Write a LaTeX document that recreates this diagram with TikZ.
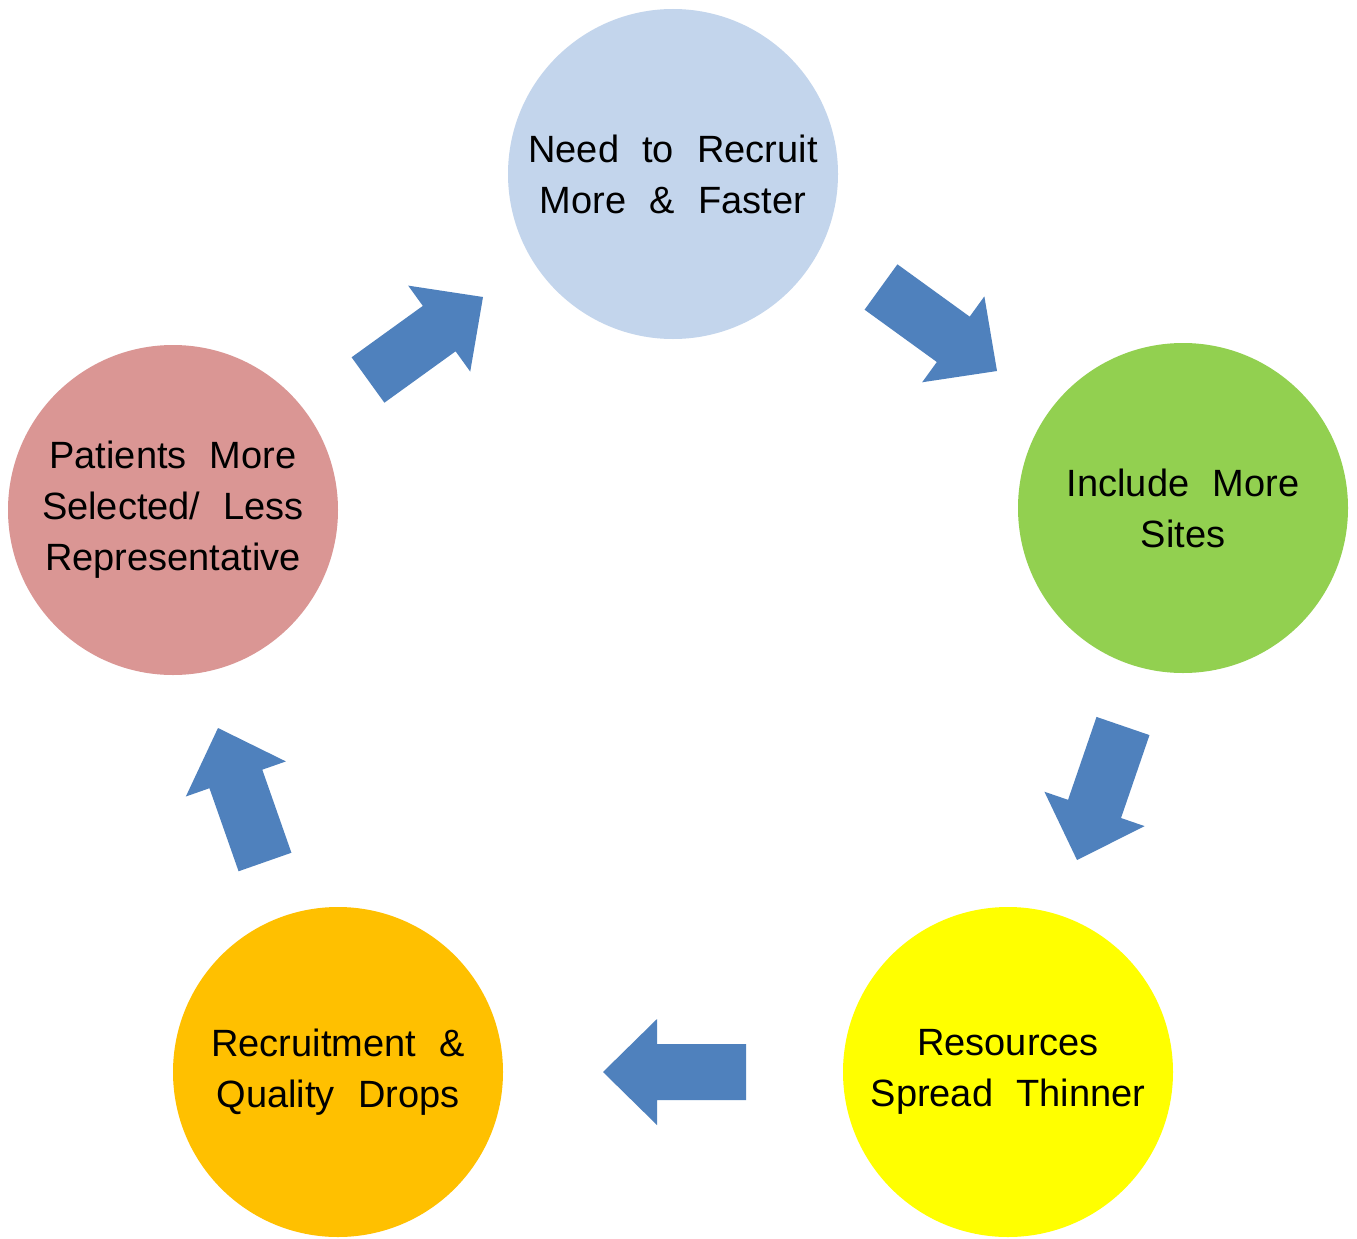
\documentclass[tikz,border=0pt]{standalone}
\usepackage{fontspec}
\setmainfont{Liberation Sans}[WordSpace=2.2]
\usetikzlibrary{calc}
\definecolor{cblue}{HTML}{C3D5EC}
\definecolor{cgreen}{HTML}{92D050}
\definecolor{cyellow}{HTML}{FFFF00}
\definecolor{corange}{HTML}{FFC000}
\definecolor{cpink}{HTML}{DA9694}
\definecolor{arrowblue}{HTML}{4F81BD}
\tikzset{
  stage/.style={circle, minimum size=330pt, inner sep=0pt, draw=none, align=center,
    font=\fontsize{38}{51}\selectfont},
  blockfill/.style={fill=arrowblue, draw=none}
}
% block arrow from tail coordinate #1 to tip coordinate #2
\newcommand\blockarrow[2]{%
  \path ($(#2)!54pt!(#1)$) coordinate (#1-base);
  \fill[blockfill] ($(#1)!28pt!90:(#2)$) -- ($(#1-base)!28pt!90:(#2)$)
    -- ($(#1-base)!53pt!90:(#2)$) -- (#2)
    -- ($(#1-base)!53pt!-90:(#2)$) -- ($(#1-base)!28pt!-90:(#2)$)
    -- ($(#1)!28pt!-90:(#2)$) -- cycle;
}
\begin{document}
\begin{tikzpicture}[x=1pt,y=-1pt]
\useasboundingbox[fill=white] (0,0) rectangle (1357,1239);

\node[stage, fill=cblue]   (need)    at (673,174)  {Need to Recruit\\More \& Faster};
\node[stage, fill=cgreen]  (sites)   at (1183,508) {Include More\\Sites};
\node[stage, fill=cyellow] (thin)    at (1008,1072) {Resources\\Spread Thinner};
\node[stage, fill=corange] (quality) at (338,1072) {Recruitment \&\\Quality Drops};
\node[stage, fill=cpink]   (patients) at (173,510) {Patients More\\Selected/ Less\\Representative};

% arrow ends
\coordinate (a1) at (368,380);  \coordinate (a1tip) at (483,297);
\coordinate (a2) at (881,287);  \coordinate (a2tip) at (997,371);
\coordinate (a3) at (1123,726); \coordinate (a3tip) at (1077,860);
\coordinate (a4) at (746,1072); \coordinate (a4tip) at (603,1072);
\coordinate (a5) at (265,862);  \coordinate (a5tip) at (218,728);

\blockarrow{a1}{a1tip}
\blockarrow{a2}{a2tip}
\blockarrow{a3}{a3tip}
\blockarrow{a4}{a4tip}
\blockarrow{a5}{a5tip}
\end{tikzpicture}
\end{document}
